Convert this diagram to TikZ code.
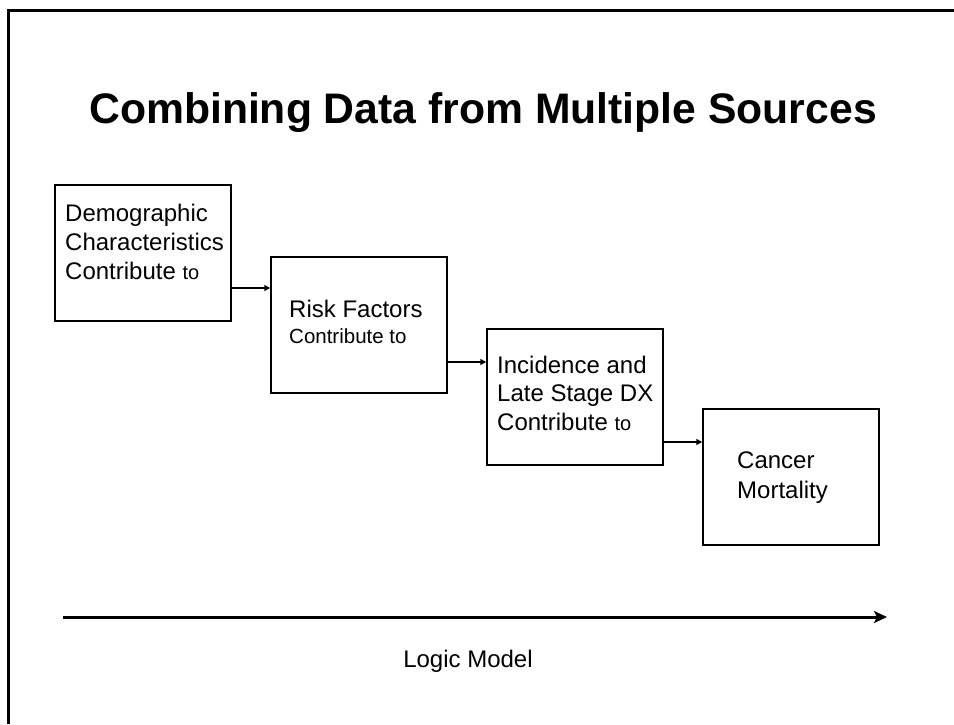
\documentclass[tikz,border=0pt]{standalone}
\usepackage{fontspec}
\setmainfont{Liberation Sans}
\usetikzlibrary{arrows.meta}
\begin{document}
\begin{tikzpicture}[x=1pt,y=-1pt,
  boxnode/.style={draw,line width=1.5pt,minimum width=176pt,minimum height=136pt,inner sep=0pt},
  boxtext/.style={anchor=base west,align=left,inner sep=0pt,font=\fontsize{24}{29}\selectfont},
  conn/.style={line width=1.5pt,-{Triangle[length=6pt,width=6pt]}},
  bigarrow/.style={line width=3pt,-{Stealth[length=13pt,width=12pt,inset=3pt]}},
  frameline/.style={line width=3pt,line join=miter}]
\useasboundingbox (0,0) rectangle (954,724);
\fill[white] (0,0) rectangle (954,724);
% frame
\coordinate (fa) at (8,724);
\coordinate (fb) at (8,10);
\coordinate (fc) at (956,10);
\draw[frameline] (fa) -- (fb) -- (fc);
% title
\node[anchor=base,inner sep=0pt,font=\fontsize{42.7}{50}\selectfont\bfseries] (title) at (483,123) {Combining Data from Multiple Sources};
% boxes
\node[boxnode] (b1) at (143,253) {};
\node[boxnode] (b2) at (359,325) {};
\node[boxnode] (b3) at (575,397) {};
\node[boxnode] (b4) at (791,477) {};
% texts (anchor at baseline of last line)
\node[boxtext] (t1) at (65,279) {Demographic\\Characteristics\\Contribute {\fontsize{20}{24}\selectfont to}};
\node[boxtext,font=\fontsize{24}{26}\selectfont] (t2) at (289,343) {Risk Factors\\{\fontsize{20.5}{24}\selectfont Contribute to}};
\node[boxtext,font=\fontsize{24}{28.5}\selectfont] (t3) at (497,430) {Incidence and\\Late Stage DX\\Contribute {\fontsize{20}{24}\selectfont to}};
\node[boxtext,font=\fontsize{24}{30}\selectfont] (t4) at (737,498) {Cancer\\Mortality};
% connectors
\draw[conn] (b1.east |- 0,288) -- (b2.west |- 0,288);
\draw[conn] (b2.east |- 0,362) -- (b3.west |- 0,362);
\draw[conn] (b3.east |- 0,442) -- (b4.west |- 0,442);
% logic model arrow
\coordinate (la) at (63,617);
\coordinate (lb) at (887,617);
\draw[bigarrow] (la) -- (lb);
\node[anchor=base,inner sep=0pt,font=\fontsize{24}{29}\selectfont] (lm) at (468,667) {Logic Model};
\end{tikzpicture}
\end{document}
